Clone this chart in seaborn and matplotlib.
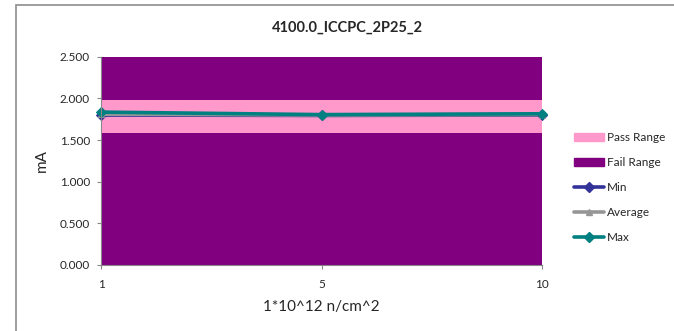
import matplotlib
matplotlib.use("Agg")
import matplotlib.pyplot as plt
import matplotlib.patches as mpatches
from matplotlib.lines import Line2D
import seaborn as sns
import pandas as pd

# data
fluence = ["1", "5", "10"]
min_vals = [1.80, 1.795, 1.80]
avg_vals = [1.81, 1.80, 1.805]
max_vals = [1.835, 1.805, 1.815]
pass_low = [1.59, 1.59, 1.59]
pass_high = [1.98, 1.98, 1.98]
fail_top = [2.5, 2.5, 2.5]

sns.set_style("white")
plt.rcParams["font.family"] = ["Lato", "DejaVu Sans"]

fig = plt.figure(figsize=(6.74, 3.31), dpi=100)
ax = fig.add_axes([0.1499, 0.1994, 0.6543, 0.6293])

pos = list(range(len(fluence)))
df = pd.DataFrame({"pos": pos, "Min": min_vals, "Average": avg_vals, "Max": max_vals})

# fail / pass bands
fail_c = "#800080"
pass_c = "#FF99CC"
ax.fill_between(pos, 0, pass_low, color=fail_c, lw=0)
ax.fill_between(pos, pass_low, pass_high, color=pass_c, lw=0)
ax.fill_between(pos, pass_high, fail_top, color=fail_c, lw=0)

series = [("Min", "#333399", "D"), ("Average", "#969696", "^"), ("Max", "#008080", "D")]
for name, col, mk in series:
    sns.lineplot(data=df, x="pos", y=name, ax=ax, color=col, marker=mk,
                 markersize=5, markeredgecolor=col, lw=2.6, legend=False,
                 clip_on=False)

ax.set_xlim(0, len(fluence) - 1)
ax.set_ylim(0, 2.5)
ax.set_xticks(pos)
ax.set_xticklabels(fluence, fontsize=8.5)
ax.set_yticks([0, 0.5, 1.0, 1.5, 2.0, 2.5])
ax.set_yticklabels([f"{v:.3f}" for v in [0, 0.5, 1.0, 1.5, 2.0, 2.5]], fontsize=8.5)
ax.tick_params(axis="both", which="both", direction="out", length=3, color="#888888",
               width=0.8, bottom=True, left=True, pad=5)
ax.tick_params(axis="x", pad=7)
for s in ["top", "right"]:
    ax.spines[s].set_visible(False)
for s in ["left", "bottom"]:
    ax.spines[s].set_color("#888888")
    ax.spines[s].set_linewidth(0.8)

ax.set_xlabel("1*10^12 n/cm^2", fontsize=11, labelpad=7)
ax.set_ylabel("mA", fontsize=11, labelpad=8)
fig.text(0.516, 0.915, "4100.0_ICCPC_2P25_2", ha="center", va="center",
         fontsize=10.5, fontweight="bold")

handles = [
    mpatches.Patch(color=pass_c, label="Pass Range"),
    mpatches.Patch(color=fail_c, label="Fail Range"),
] + [Line2D([0], [0], color=c, marker=m, markersize=5, lw=2.6, label=n)
     for n, c, m in series]
fig.legend(handles=handles, loc="upper left", bbox_to_anchor=(0.845, 0.614),
           frameon=False, fontsize=8.5, handlelength=2.5, handletextpad=0.3,
           labelspacing=1.18, borderaxespad=0)

# outer chart frame (only left/top edges fall inside the image)
fig.patches.append(mpatches.Rectangle((16 / 674, -1.0), 5.0, 2.0 - 5 / 331,
                                      transform=fig.transFigure, fill=False,
                                      edgecolor="#8c8c8c", lw=1.2))

fig.savefig("out.png", dpi=100)
